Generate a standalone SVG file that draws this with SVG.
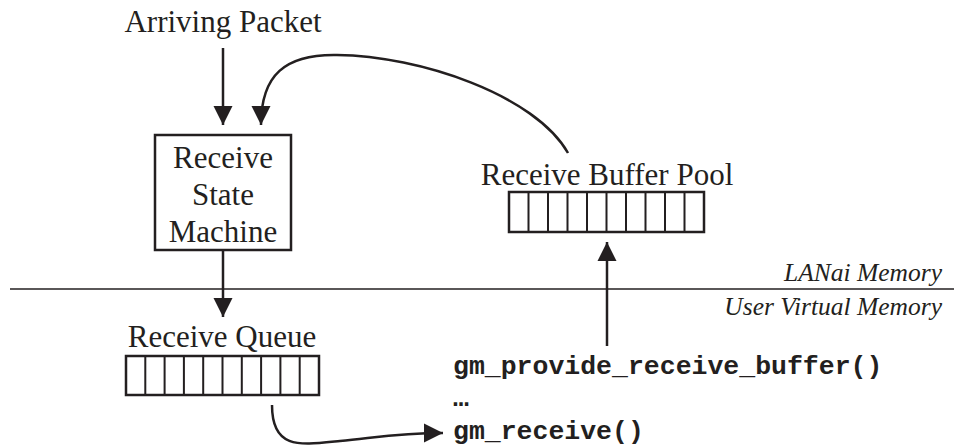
<svg xmlns="http://www.w3.org/2000/svg" width="954" height="448" viewBox="0 0 954 448">
<style>
.t{font-family:"Liberation Serif","Times New Roman",serif;font-size:31px;fill:#231f20;}
.i{font-family:"Liberation Serif","Times New Roman",serif;font-size:25.5px;font-style:italic;fill:#231f20;text-anchor:end;}
.c{font-family:"Liberation Mono","Courier New",monospace;font-size:26.5px;font-weight:bold;fill:#231f20;}
.ln{fill:none;stroke:#231f20;stroke-width:2.5;}
.box{fill:#fff;stroke:#231f20;stroke-width:2.5;}
.cell{stroke:#231f20;stroke-width:2;}
</style>
<defs>
<marker id="ah" markerUnits="userSpaceOnUse" markerWidth="20" markerHeight="20" refX="19" refY="10" orient="auto">
<path d="M0,0.5 L19,10 L0,19.5 Z" fill="#231f20"/>
</marker>
</defs>
<line x1="10" y1="289" x2="954" y2="289" stroke="#231f20" stroke-width="1.5"/>
<text class="i" x="942" y="281">LANai Memory</text>
<text class="i" x="942" y="315">User Virtual Memory</text>
<g id="arriving"><text class="t" x="223" y="32" text-anchor="middle">Arriving Packet</text></g>
<g id="rsm">
<rect class="box" x="155" y="135" width="136" height="115"/>
<text class="t" x="223" y="168" text-anchor="middle">Receive</text>
<text class="t" x="223" y="205" text-anchor="middle">State</text>
<text class="t" x="223" y="242" text-anchor="middle">Machine</text>
</g>
<g id="pool">
<text class="t" x="607" y="185" text-anchor="middle">Receive Buffer Pool</text>
<rect class="box" x="509" y="192" width="195" height="40"/>
<path class="cell" d="M528.5,192V232M548,192V232M567.5,192V232M587,192V232M606.5,192V232M626,192V232M645.5,192V232M665,192V232M684.5,192V232"/>
</g>
<g id="queue">
<text class="t" x="222" y="347" text-anchor="middle">Receive Queue</text>
<rect class="box" x="126" y="356" width="193" height="39"/>
<path class="cell" d="M145.3,356V395M164.6,356V395M183.9,356V395M203.2,356V395M222.5,356V395M241.8,356V395M261.1,356V395M280.4,356V395M299.7,356V395"/>
</g>
<g id="code">
<text class="c" x="453" y="374">gm_provide_receive_buffer()</text>
<text class="c" x="453" y="406">…</text>
<text class="c" x="453" y="439">gm_receive()</text>
</g>
<g id="connectors">
<line class="ln" x1="223" y1="48" x2="223" y2="125" marker-end="url(#ah)"/>
<path class="ln" d="M568,153 C535,95 420,56 337,55 C285,54 261,75 261,125" marker-end="url(#ah)"/>
<line class="ln" x1="223" y1="250" x2="223" y2="317" marker-end="url(#ah)"/>
<line class="ln" x1="607" y1="346" x2="607" y2="242" marker-end="url(#ah)"/>
<path class="ln" d="M272,405 C272,450 300,445 340,441 C380,437 400,433 443,433" marker-end="url(#ah)"/>
</g>
</svg>
